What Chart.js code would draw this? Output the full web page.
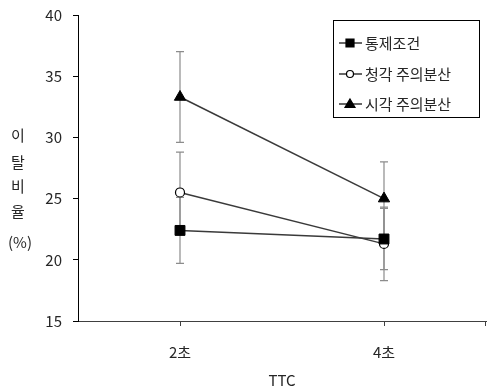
<!DOCTYPE html>
<html>
<head>
<meta charset="utf-8">
<script src="https://cdn.jsdelivr.net/npm/chart.js@4"></script>
<style>
  html, body { margin: 0; padding: 0; background: #fff; }
  #wrap { width: 487px; height: 392px; }
</style>
</head>
<body>
<div id="wrap"><canvas id="chart" width="487" height="392"></canvas></div>
<script>
const categories = ['2초', '4초'];
const seriesNames = ['통제조건', '청각 주의분산', '시각 주의분산'];
const controlVals = [22.4, 21.7];
const controlErr = [2.7, 2.5];
const auditoryVals = [25.5, 21.3];
const auditoryErr = [3.3, 3.0];
const visualVals = [33.3, 25.0];
const visualErr = [3.7, 3.0];
const yTicks = [15, 20, 25, 30, 35, 40];
const yTitle = ['이', '탈', '비', '율', '(%)'];
const xTitle = 'TTC';

const FONT = '"Noto Sans CJK KR", "Noto Sans", sans-serif';

// error bars drawn under the lines
const errorBars = {
  id: 'errorBars',
  beforeDatasetsDraw(chart) {
    const { ctx, scales: { x, y } } = chart;
    const errs = [controlErr, auditoryErr, visualErr];
    ctx.save();
    ctx.strokeStyle = '#8c8c8c';
    ctx.lineWidth = 1.2;
    chart.data.datasets.forEach((ds, i) => {
      ds.data.forEach((v, j) => {
        const px = x.getPixelForValue(j);
        const top = y.getPixelForValue(v + errs[i][j]);
        const bot = y.getPixelForValue(v - errs[i][j]);
        ctx.beginPath();
        ctx.moveTo(px, top); ctx.lineTo(px, bot);
        ctx.moveTo(px - 4, top); ctx.lineTo(px + 4, top);
        ctx.moveTo(px - 4, bot); ctx.lineTo(px + 4, bot);
        ctx.stroke();
      });
    });
    ctx.restore();
  }
};

// titles and boxed legend
const extras = {
  id: 'extras',
  afterDraw(chart) {
    const { ctx, chartArea } = chart;
    ctx.save();
    ctx.fillStyle = '#262626';
    ctx.font = '15px ' + FONT;
    ctx.textAlign = 'center';
    ctx.textBaseline = 'middle';
    const ys = [135, 162, 186, 211, 242];
    yTitle.forEach((t, i) => ctx.fillText(t, i === 4 ? 20 : 18, ys[i]));
    ctx.fillText(xTitle, (chartArea.left + chartArea.right) / 2, 380);

    // x axis end tick
    ctx.strokeStyle = '#404040';
    ctx.lineWidth = 1;
    ctx.beginPath();
    ctx.moveTo(chartArea.right - 0.5, chartArea.bottom);
    ctx.lineTo(chartArea.right - 0.5, chartArea.bottom + 5);
    ctx.stroke();

    // legend
    const lx = 333, ly = 20, lw = 146, lh = 97;
    ctx.fillStyle = '#fff';
    ctx.fillRect(lx, ly, lw, lh);
    ctx.strokeStyle = '#000';
    ctx.lineWidth = 1;
    ctx.strokeRect(lx + 0.5, ly + 0.5, lw, lh);
    const rowY = [43, 74, 104];
    chart.data.datasets.forEach((ds, i) => {
      const cy = rowY[i];
      ctx.strokeStyle = '#000';
      ctx.lineWidth = 1.2;
      ctx.beginPath();
      ctx.moveTo(339, cy); ctx.lineTo(362, cy);
      ctx.stroke();
      ctx.fillStyle = ds.pointBackgroundColor;
      ctx.strokeStyle = '#000';
      ctx.beginPath();
      if (i === 0) {
        ctx.rect(346, cy - 4, 8, 8);
      } else if (i === 1) {
        ctx.arc(350, cy, 3.5, 0, Math.PI * 2);
      } else {
        ctx.moveTo(350, cy - 5); ctx.lineTo(355, cy + 3.5); ctx.lineTo(345, cy + 3.5); ctx.closePath();
      }
      ctx.fill(); ctx.stroke();
      ctx.fillStyle = '#262626';
      ctx.textAlign = 'left';
      ctx.font = '15px ' + FONT;
      ctx.fillText(ds.label, 365, cy);
    });
    ctx.restore();
  }
};

const lineColor = '#3a3a3a';
new Chart(document.getElementById('chart').getContext('2d'), {
  type: 'line',
  data: {
    labels: categories,
    datasets: [
      { label: seriesNames[0], data: controlVals, borderColor: lineColor, borderWidth: 1.5,
        pointStyle: 'rect', pointRadius: 7, pointBackgroundColor: '#000', pointBorderColor: '#000', pointBorderWidth: 1 },
      { label: seriesNames[1], data: auditoryVals, borderColor: lineColor, borderWidth: 1.5,
        pointStyle: 'circle', pointRadius: 4.5, pointBackgroundColor: '#fff', pointBorderColor: '#000', pointBorderWidth: 1.2 },
      { label: seriesNames[2], data: visualVals, borderColor: lineColor, borderWidth: 1.5,
        pointStyle: 'triangle', pointRadius: 6.5, pointBackgroundColor: '#000', pointBorderColor: '#000', pointBorderWidth: 1 }
    ]
  },
  options: {
    responsive: false,
    animation: false,
    layout: { autoPadding: false, padding: { top: 15, right: 1, left: 0, bottom: 0 } },
    plugins: { legend: { display: false }, tooltip: { enabled: false } },
    scales: {
      x: {
        offset: true,
        grid: { display: true, drawOnChartArea: false, drawTicks: true, tickLength: 5, color: '#404040', offset: false },
        border: { color: '#404040', width: 1 },
        ticks: { color: '#262626', padding: 17, font: { family: FONT, size: 15 } },
        afterFit(scale) { scale.height = 71; scale.paddingLeft = 0; scale.paddingRight = 0; }
      },
      y: {
        min: 15, max: 40,
        afterBuildTicks(scale) { scale.ticks = yTicks.map(v => ({ value: v })); },
        grid: { display: true, drawOnChartArea: false, drawTicks: true, tickLength: 5, color: '#000' },
        border: { color: '#000', width: 1 },
        ticks: { color: '#262626', padding: 11, font: { family: FONT, size: 15 } },
        afterFit(scale) { scale.width = 78; scale.paddingTop = 0; scale.paddingBottom = 0; }
      }
    }
  },
  plugins: [errorBars, extras]
});
</script>
</body>
</html>
